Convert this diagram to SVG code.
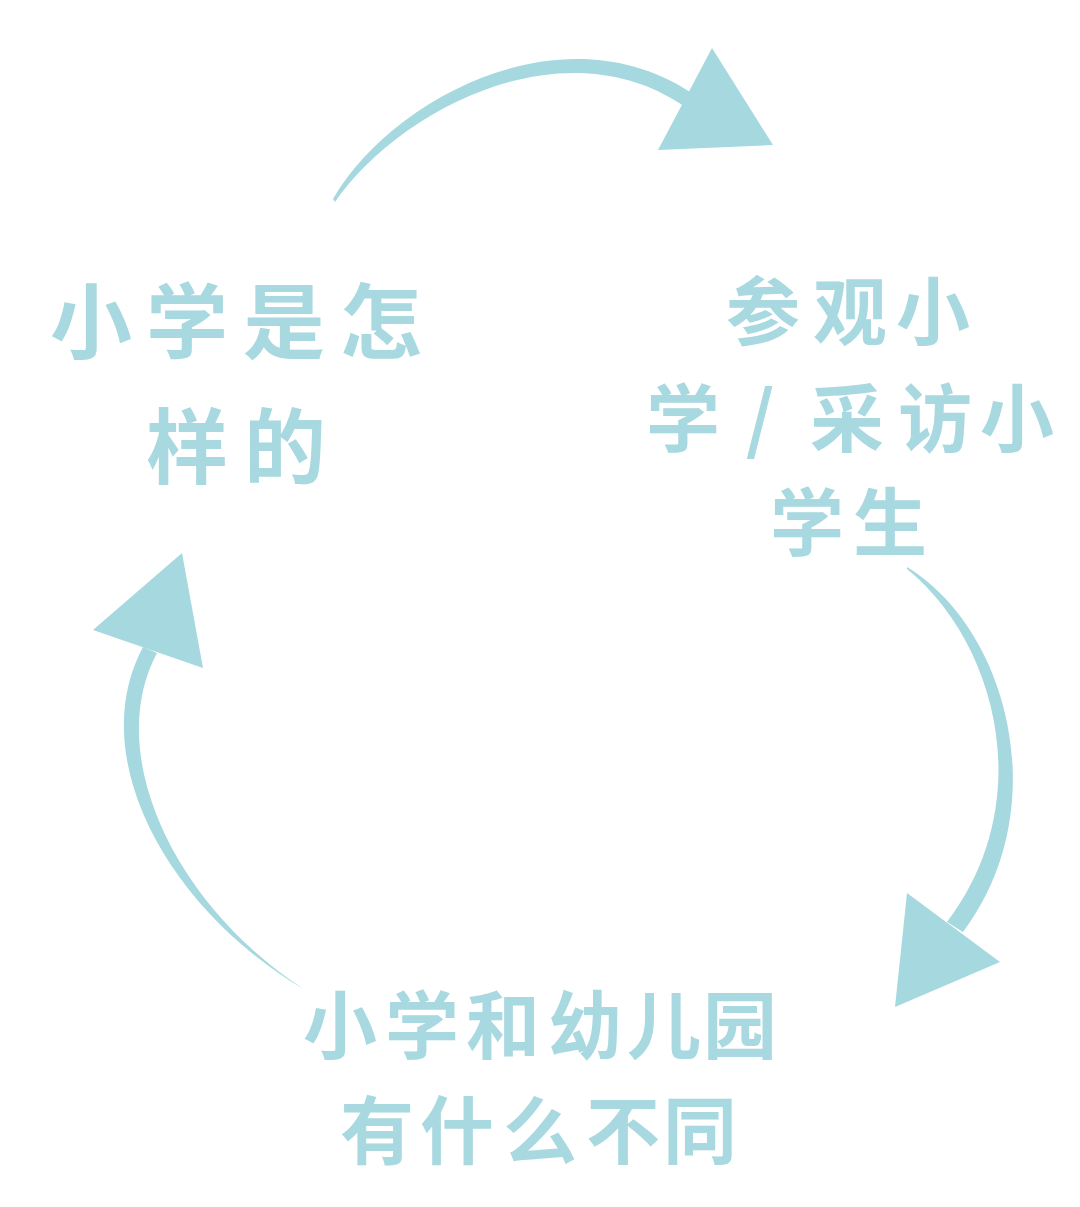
<svg xmlns="http://www.w3.org/2000/svg" width="1080" height="1207" viewBox="0 0 1080 1207">
<style>
.arrow{fill:#a6d8e0;stroke:none}
.lbl{font-family:"Noto Sans CJK SC","Noto Sans CJK JP",sans-serif;font-weight:700;fill:#a8d9e0;text-anchor:middle}
</style>
<rect width="1080" height="1207" fill="#ffffff"/>
<g id="connectors">
  <g id="arrow-top">
    <path class="arrow" d="M333,199 C390,100 560,8 690,92 L684,106 C560,22 395,114 335,202 Z"/>
    <polygon class="arrow" points="712,48 773,145 658,150"/>
  </g>
  <g id="arrow-right">
    <path class="arrow" d="M907,567 C1010,630 1055,810 963,932 L947,922 C1040,800 995,640 907,569 Z"/>
    <polygon class="arrow" points="907,893 1000,962 895,1007"/>
  </g>
  <g id="arrow-left">
    <path class="arrow" d="M300,987 C165,905 85,755 143,647 L157,653 C104,752 172,902 302,988 Z"/>
    <polygon class="arrow" points="182,553 203,668 93,630"/>
  </g>
</g>
<g id="node-left">
  <text class="lbl" font-size="82" x="91 187 284 381" y="352">小学是怎</text>
  <text class="lbl" font-size="82" x="187 285" y="477">样的</text>
</g>
<g id="node-right">
  <text class="lbl" font-size="74" x="763 850 933" y="339">参观小</text>
  <text class="lbl" font-size="74" x="683 722 760 798 847 935 1017" y="446">学 / 采访小</text>
  <text class="lbl" font-size="74" x="807 890" y="550">学生</text>
</g>
<g id="node-bottom">
  <text class="lbl" font-size="74" x="340 422 503 585 664 740" y="1053">小学和幼儿园</text>
  <text class="lbl" font-size="74" x="377 457 540 623 700" y="1158">有什么不同</text>
</g>
</svg>
